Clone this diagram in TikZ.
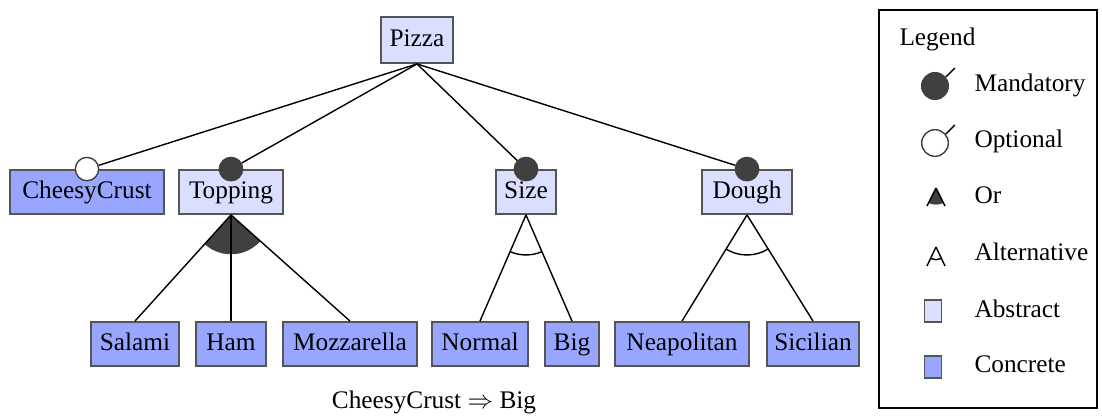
\documentclass[tikz,border=0pt]{standalone}
\usepackage{fontspec}
\setmainfont{Liberation Serif}
\definecolor{abstractfill}{RGB}{218,222,255}
\definecolor{concretefill}{RGB}{152,166,255}
\definecolor{edgegray}{RGB}{85,85,85}
\definecolor{markgray}{RGB}{64,64,64}
\newcommand{\fmfont}{\fontsize{10.8}{13}\selectfont}
\tikzset{
  feature/.style={draw=edgegray, line width=0.8pt, minimum height=0.66cm, inner xsep=1pt,
    text height=1.6ex, text depth=0.45ex, font=\fmfont},
  abstract/.style={feature, fill=abstractfill},
  concrete/.style={feature, fill=concretefill},
  mand/.style={circle, draw=markgray, fill=markgray, minimum size=0.35cm, inner sep=0pt},
  opt/.style={circle, draw=markgray, fill=white, minimum size=0.35cm, inner sep=0pt},
  legendtext/.style={anchor=west, font=\fmfont, text height=1.6ex, text depth=0.45ex},
  legendbox/.style={minimum size=0.25cm, inner sep=0pt, line width=0.6pt}
}
\begin{document}
\begin{tikzpicture}[x=0.015cm, y=-0.015cm, line width=0.6pt]
\useasboundingbox (0,0) rectangle (1102,419);
% features
\node[abstract, minimum width=1.08cm, minimum height=0.69cm] (Pizza) at (417,40) {Pizza};
\node[concrete, minimum width=2.3cm] (CheesyCrust) at (87,192) {CheesyCrust};
\node[abstract, minimum width=1.55cm] (Topping) at (231,192) {Topping};
\node[abstract, minimum width=0.89cm] (Size) at (526,192) {Size};
\node[abstract, minimum width=1.34cm] (Dough) at (747,192) {Dough};
%
\node[concrete, minimum width=1.31cm] (Salami) at (135,344) {Salami};
\node[concrete, minimum width=1.04cm] (Ham) at (231,344) {Ham};
\node[concrete, minimum width=2.0cm] (Mozzarella) at (350,344) {Mozzarella};
\node[concrete, minimum width=1.44cm] (Normal) at (480,344) {Normal};
\node[concrete, minimum width=0.8cm] (Big) at (572,344) {Big};
\node[concrete, minimum width=2.0cm] (Neapolitan) at (682,344) {Neapolitan};
\node[concrete, minimum width=1.38cm] (Sicilian) at (813,344) {Sicilian};
%
\node[opt] (oCheesyCrust) at (CheesyCrust.north) {};
\node[mand] (mTopping) at (Topping.north) {};
\node[mand] (mSize) at (Size.north) {};
\node[mand] (mDough) at (Dough.north) {};
%
\draw (Pizza.south) -- (oCheesyCrust);
\draw (Pizza.south) -- (mTopping);
\draw (Pizza.south) -- (mSize);
\draw (Pizza.south) -- (mDough);
% or group
\begin{scope}
\clip (Topping.south) -- (Salami.north) -- (Mozzarella.north) -- cycle;
\fill[markgray] (Topping.south) circle (0.59cm);
\end{scope}
\draw (Topping.south) -- (Salami.north);
\draw (Topping.south) -- (Ham.north);
\draw (Topping.south) -- (Mozzarella.north);
% alternative groups
\begin{scope}
\clip (Size.south) -- (Normal.north) -- (Big.north) -- cycle;
\draw (Size.south) circle (0.6cm);
\end{scope}
\draw (Size.south) -- (Normal.north);
\draw (Size.south) -- (Big.north);
\begin{scope}
\clip (Dough.south) -- (Neapolitan.north) -- (Sicilian.north) -- cycle;
\draw (Dough.south) circle (0.6cm);
\end{scope}
\draw (Dough.south) -- (Neapolitan.north);
\draw (Dough.south) -- (Sicilian.north);
%
\node[font=\fmfont] (constraint) at (434,402) {CheesyCrust $\Rightarrow$ Big};
% legend
\draw[line width=0.8pt] (879,10) rectangle (1097,408);
\node[legendtext] (legend) at (891,39) {Legend};
%
\node[mand, minimum size=0.4cm] (lmand) at (935,86) {};
\draw (lmand.40) -- (955,68);
\node[legendtext] at (966,85) {Mandatory};
\node[opt, minimum size=0.4cm] (lopt) at (935,143) {};
\draw (lopt.40) -- (955,125);
\node[legendtext] at (966,141) {Optional};
%
\coordinate (orapex) at (936,188);
\begin{scope}
\clip (orapex) -- (927,206) -- (945,206) -- cycle;
\fill[markgray] (orapex) circle (0.25cm);
\end{scope}
\draw (orapex) -- (927,206) (orapex) -- (945,206);
\node[legendtext] at (966,197) {Or};
%
\coordinate (altapex) at (936,247);
\begin{scope}
\clip (altapex) -- (927,266) -- (945,266) -- cycle;
\draw (altapex) circle (0.19cm);
\end{scope}
\draw (altapex) -- (927,266) (altapex) -- (945,266);
\node[legendtext] at (966,254) {Alternative};
%
\node[abstract, legendbox] (labs) at (933,311) {};
\node[legendtext] at (966,311) {Abstract};
\node[concrete, legendbox] (lcon) at (933,367) {};
\node[legendtext] at (966,366) {Concrete};
\end{tikzpicture}
\end{document}
